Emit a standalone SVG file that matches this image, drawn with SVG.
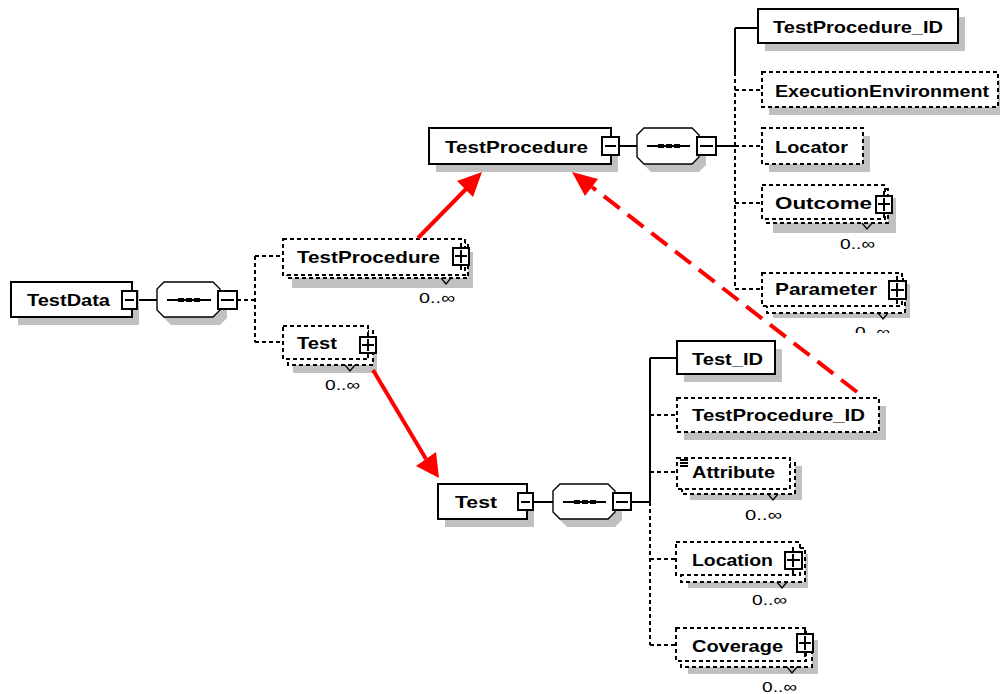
<svg xmlns="http://www.w3.org/2000/svg" width="1000" height="694" viewBox="0 0 1000 694">
<defs>
<style>
.t{font-family:"Liberation Sans",Arial,sans-serif;font-weight:bold;font-size:17px;fill:#000}
.m{font-family:"Liberation Sans",Arial,sans-serif;font-size:15px;fill:#000}
.sh{fill:#c0c0c0;stroke:none}
.sb{fill:#fff;stroke:#000;stroke-width:1.5;shape-rendering:crispEdges}
.so{fill:#fff;stroke:#000;stroke-width:1.4}
.db{fill:#fff;stroke:#000;stroke-width:1.5;stroke-dasharray:4 3;shape-rendering:crispEdges}
.bt{fill:#fff;stroke:#000;stroke-width:1.2;shape-rendering:crispEdges}
.ln{fill:none;stroke:#000;stroke-width:1.2;shape-rendering:crispEdges}
.dl{fill:none;stroke:#000;stroke-width:1.2;stroke-dasharray:4 3;shape-rendering:crispEdges}
.nt{fill:none;stroke:#000;stroke-width:1.2}
.red{fill:none;stroke:#ff0000;stroke-width:4}
.redd{fill:none;stroke:#ff0000;stroke-width:4;stroke-dasharray:20 10}
.rh{fill:#ff0000;stroke:none}
</style>
<clipPath id="clipP"><rect x="0" y="0" width="1000" height="333"/></clipPath>
</defs>
<rect width="1000" height="694" fill="#fff"/>

<g id="connectors">
<path class="ln" d="M137,300H157 M619,146H637 M716,146H735 M533,502H553 M631,502H650 M735,28V72 M735,28H758 M650,358V502 M650,358H677"/>
<path class="dl" d="M237,300H255 M255,256V342 M255,256H283 M255,342H283 M735,72V289 M735,90H762 M735,146H762 M735,203H762 M735,289H762 M650,502V645 M650,415H677 M650,472H677 M650,559H676 M650,645H676"/>
</g>

<g id="TestData">
<rect class="sh" x="18" y="290" width="121" height="35"/>
<rect class="sb" x="11" y="282" width="121" height="35"/>
<text class="t" x="27" y="306" textLength="83" lengthAdjust="spacingAndGlyphs">TestData</text>
<rect class="bt" x="122" y="291" width="15" height="18"/>
<path class="ln" d="M125,300H134"/>
</g>

<g id="seq1">
<path class="sh" d="M171,290H220L227,297V318L220,325H171L164,318V297Z"/>
<path class="so" d="M164,282H213L220,289V310L213,317H164L157,310V289Z"/>
<path class="ln" d="M167,300H211"/>
<rect x="178" y="298" width="6" height="4"/><rect x="186" y="298" width="6" height="4"/><rect x="194" y="298" width="6" height="4"/>
<rect class="bt" x="218" y="291" width="19" height="18"/>
<path class="ln" d="M221,300H234"/>
</g>

<g id="TestProcedureRef">
<rect class="sh" x="292" y="252" width="181" height="36"/>
<rect class="db" x="287" y="243" width="181" height="35"/>
<rect class="db" x="283" y="239" width="182" height="36"/>
<polyline class="nt" points="441,278 446,284 451,278"/>
<text class="t" x="297" y="263" textLength="143" lengthAdjust="spacingAndGlyphs">TestProcedure</text>
<path class="ln" d="M461,243V248 M461,265V270"/>
<rect class="bt" x="453" y="248" width="16" height="17"/>
<path class="ln" d="M455,256H467 M461,250V263"/>
<text class="m" x="419" y="303" textLength="36" lengthAdjust="spacingAndGlyphs">0..∞</text>
</g>

<g id="TestRef">
<rect class="sh" x="293" y="338" width="84" height="35"/>
<rect class="db" x="288" y="331" width="85" height="34"/>
<rect class="db" x="283" y="326" width="85" height="33"/>
<polyline class="nt" points="345,365 350,371 355,365"/>
<text class="t" x="297" y="349" textLength="40" lengthAdjust="spacingAndGlyphs">Test</text>
<path class="ln" d="M368,332V337 M368,353V358"/>
<rect class="bt" x="360" y="337" width="16" height="16"/>
<path class="ln" d="M362,345H374 M368,339V351"/>
<text class="m" x="325" y="390" textLength="35" lengthAdjust="spacingAndGlyphs">0..∞</text>
</g>

<g id="TestProcedure">
<rect class="sh" x="436" y="136" width="182" height="36"/>
<rect class="sb" x="429" y="128" width="182" height="36"/>
<text class="t" x="445" y="153" textLength="143" lengthAdjust="spacingAndGlyphs">TestProcedure</text>
<rect class="bt" x="602" y="137" width="17" height="18"/>
<path class="ln" d="M605,146H616"/>
</g>

<g id="seq2">
<path class="sh" d="M651,136H699L706,143V165L699,172H651L644,165V143Z"/>
<path class="so" d="M644,128H692L699,135V157L692,164H644L637,157V135Z"/>
<path class="ln" d="M647,146H690"/>
<rect x="658" y="144" width="6" height="4"/><rect x="666" y="144" width="6" height="4"/><rect x="674" y="144" width="6" height="4"/>
<rect class="bt" x="697" y="137" width="19" height="18"/>
<path class="ln" d="M700,146H713"/>
</g>

<g id="TestProcedure_ID_1">
<rect class="sh" x="765" y="17" width="200" height="34"/>
<rect class="sb" x="758" y="9" width="200" height="34"/>
<text class="t" x="773" y="33" textLength="170" lengthAdjust="spacingAndGlyphs">TestProcedure_ID</text>
</g>

<g id="ExecutionEnvironment">
<rect class="sh" x="769" y="80" width="236" height="35"/>
<rect class="db" x="762" y="72" width="236" height="35"/>
<text class="t" x="775" y="97" textLength="214" lengthAdjust="spacingAndGlyphs">ExecutionEnvironment</text>
</g>

<g id="Locator">
<rect class="sh" x="769" y="136" width="101" height="36"/>
<rect class="db" x="762" y="128" width="101" height="36"/>
<text class="t" x="775" y="153" textLength="73" lengthAdjust="spacingAndGlyphs">Locator</text>
</g>

<g id="Outcome">
<rect class="sh" x="773" y="198" width="123" height="35"/>
<rect class="db" x="767" y="189" width="121" height="34"/>
<rect class="db" x="762" y="185" width="123" height="34"/>
<polyline class="nt" points="862,223 867,229 872,223"/>
<text class="t" x="775" y="209" textLength="97" lengthAdjust="spacingAndGlyphs">Outcome</text>
<path class="ln" d="M884,191V196 M884,213V218"/>
<rect class="bt" x="876" y="196" width="16" height="17"/>
<path class="ln" d="M878,204H890 M884,198V211"/>
<text class="m" x="840" y="249" textLength="35" lengthAdjust="spacingAndGlyphs">0..∞</text>
</g>

<g id="Parameter">
<rect class="sh" x="773" y="284" width="137" height="34"/>
<rect class="db" x="767" y="279" width="138" height="34"/>
<rect class="db" x="762" y="273" width="140" height="33"/>
<polyline class="nt" points="878,313 883,319 888,313"/>
<text class="t" x="775" y="295" textLength="102" lengthAdjust="spacingAndGlyphs">Parameter</text>
<path class="ln" d="M897,276V281 M897,299V304"/>
<rect class="bt" x="889" y="281" width="17" height="18"/>
<path class="ln" d="M891,290H904 M897,283V297"/>
<text class="m" x="855" y="337" textLength="35" lengthAdjust="spacingAndGlyphs" clip-path="url(#clipP)">0..∞</text>
</g>

<g id="Test">
<rect class="sh" x="445" y="492" width="89" height="35"/>
<rect class="sb" x="438" y="484" width="89" height="35"/>
<text class="t" x="455" y="508" textLength="42" lengthAdjust="spacingAndGlyphs">Test</text>
<rect class="bt" x="518" y="493" width="15" height="17"/>
<path class="ln" d="M521,502H530"/>
</g>

<g id="seq3">
<path class="sh" d="M567,492H615L622,499V520L615,527H567L560,520V499Z"/>
<path class="so" d="M560,484H608L615,491V512L608,519H560L553,512V491Z"/>
<path class="ln" d="M563,502H606"/>
<rect x="574" y="500" width="6" height="4"/><rect x="582" y="500" width="6" height="4"/><rect x="590" y="500" width="6" height="4"/>
<rect class="bt" x="613" y="493" width="18" height="17"/>
<path class="ln" d="M616,502H628"/>
</g>

<g id="Test_ID">
<rect class="sh" x="684" y="349" width="98" height="33"/>
<rect class="sb" x="677" y="341" width="98" height="33"/>
<text class="t" x="692" y="365" textLength="71" lengthAdjust="spacingAndGlyphs">Test_ID</text>
</g>

<g id="TestProcedure_ID_2">
<rect class="sh" x="684" y="406" width="202" height="34"/>
<rect class="db" x="677" y="398" width="202" height="34"/>
<text class="t" x="692" y="421" textLength="173" lengthAdjust="spacingAndGlyphs">TestProcedure_ID</text>
</g>

<g id="Attribute">
<rect class="sh" x="690" y="466" width="112" height="34"/>
<rect class="db" x="682" y="463" width="113" height="31"/>
<rect class="db" x="677" y="458" width="113" height="31"/>
<polyline class="nt" points="768,494 773,500 778,494"/>
<path class="ln" d="M680,460H688 M680,463H688 M680,466H688"/>
<text class="t" x="692" y="478" textLength="83" lengthAdjust="spacingAndGlyphs">Attribute</text>
<text class="m" x="745" y="520" textLength="37" lengthAdjust="spacingAndGlyphs">0..∞</text>
</g>

<g id="Location">
<rect class="sh" x="688" y="554" width="120" height="34"/>
<rect class="db" x="681" y="548" width="124" height="34"/>
<rect class="db" x="676" y="542" width="124" height="33"/>
<polyline class="nt" points="777,582 782,588 787,582"/>
<text class="t" x="692" y="566" textLength="81" lengthAdjust="spacingAndGlyphs">Location</text>
<path class="ln" d="M793,547V552 M793,569V574"/>
<rect class="bt" x="785" y="552" width="17" height="17"/>
<path class="ln" d="M787,560H800 M793,554V567"/>
<text class="m" x="752" y="605" textLength="35" lengthAdjust="spacingAndGlyphs">0..∞</text>
</g>

<g id="Coverage">
<rect class="sh" x="688" y="640" width="130" height="34"/>
<rect class="db" x="681" y="634" width="131" height="33"/>
<rect class="db" x="676" y="628" width="130" height="33"/>
<polyline class="nt" points="787,667 792,673 797,667"/>
<text class="t" x="692" y="652" textLength="91" lengthAdjust="spacingAndGlyphs">Coverage</text>
<path class="ln" d="M805,629V634 M805,652V657"/>
<rect class="bt" x="797" y="634" width="16" height="18"/>
<path class="ln" d="M799,643H811 M805,636V650"/>
<text class="m" x="762" y="692" textLength="35" lengthAdjust="spacingAndGlyphs">0..∞</text>
</g>

<g id="arrows">
<path class="red" d="M418,238L466,189"/>
<polygon class="rh" points="482,172 473,197 457,181"/>
<path class="red" d="M373,370L426,459"/>
<polygon class="rh" points="439,478 416,466 436,452"/>
<path class="redd" d="M857,392L592,187"/>
<polygon class="rh" points="572,172 598,179 585,196"/>
</g>
</svg>
